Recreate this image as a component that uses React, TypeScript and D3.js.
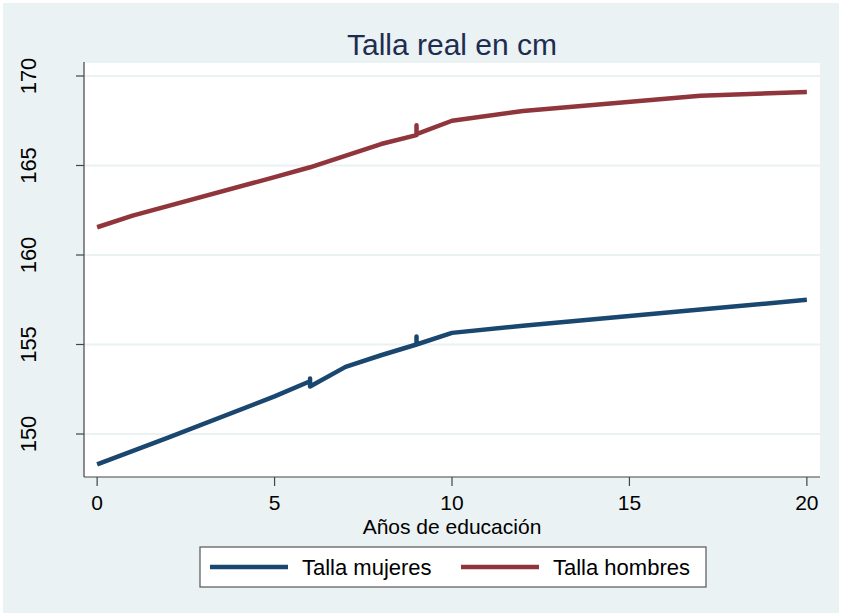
import React from 'react';
import * as d3 from 'd3';

const W = 842;
const H = 616;
const PLOT = { left: 84, right: 820, top: 63, bottom: 477 };

const xTicks = [0, 5, 10, 15, 20];
const yTicks = [150, 155, 160, 165, 170];

// Mujeres
const womenX = [0, 2, 5, 6, 6, 6, 7, 8, 9, 9, 9, 10, 12, 17, 20];
const womenY = [148.3, 149.8, 152.1, 152.95, 153.1, 152.65, 153.75, 154.4, 155.0, 155.45, 155.0, 155.65, 156.05, 156.95, 157.5];

// Hombres
const menX = [0, 1, 5, 6, 8, 9, 9, 9, 10, 12, 17, 20];
const menY = [161.55, 162.2, 164.35, 164.9, 166.2, 166.7, 167.25, 166.75, 167.5, 168.05, 168.9, 169.1];

const series = [
  { name: 'Talla mujeres', xs: womenX, ys: womenY, color: '#1a476f' },
  { name: 'Talla hombres', xs: menX, ys: menY, color: '#90353b' },
];

const FONT = 'Liberation Sans, Arial, sans-serif';

export default function App() {
  const x = d3.scaleLinear().domain([-0.37, 20.37]).range([PLOT.left, PLOT.right]);
  const y = d3.scaleLinear().domain([150, 170]).range([434, 76]);

  const line = d3.line<[number, number]>()
    .x(d => x(d[0]))
    .y(d => y(d[1]));

  const legendX = 200;
  const legendY = 547;

  return (
    <svg width={W} height={H} style={{ position: 'absolute', left: 0, top: 0 }} fontFamily={FONT}>
      <rect x={0} y={0} width={W} height={H} fill="#ffffff" />
      <rect x={3} y={3} width={W - 6} height={H - 6} fill="#eaf2f3" />

      {/* plot region */}
      <rect x={PLOT.left} y={PLOT.top} width={PLOT.right - PLOT.left} height={PLOT.bottom - PLOT.top} fill="#ffffff" />

      {/* grid */}
      {yTicks.map(t => (
        <line key={'g' + t} x1={PLOT.left} x2={PLOT.right} y1={y(t)} y2={y(t)} stroke="#eaf2f3" strokeWidth={2} />
      ))}

      {/* series */}
      {series.map(s => (
        <path
          key={s.name}
          d={line(s.xs.map((v, i) => [v, s.ys[i]] as [number, number])) || ''}
          fill="none"
          stroke={s.color}
          strokeWidth={4.5}
          strokeLinejoin="round"
        />
      ))}

      {/* axes */}
      <line x1={PLOT.left} x2={PLOT.left} y1={PLOT.top - 1} y2={PLOT.bottom} stroke="#444" strokeWidth={1.2} />
      <line x1={PLOT.left} x2={PLOT.right} y1={PLOT.bottom} y2={PLOT.bottom} stroke="#444" strokeWidth={1.2} />

      {yTicks.map(t => (
        <g key={'y' + t}>
          <line x1={PLOT.left - 8} x2={PLOT.left} y1={y(t)} y2={y(t)} stroke="#444" strokeWidth={1.2} />
          <text
            transform={`translate(36,${y(t)}) rotate(-90)`}
            textAnchor="middle"
            fontSize={22}
            fill="#000"
          >
            {t}
          </text>
        </g>
      ))}

      {xTicks.map(t => (
        <g key={'x' + t}>
          <line x1={x(t)} x2={x(t)} y1={PLOT.bottom} y2={PLOT.bottom + 9} stroke="#444" strokeWidth={1.2} />
          <text x={x(t)} y={510} textAnchor="middle" fontSize={21} fill="#000">
            {t}
          </text>
        </g>
      ))}

      <text x={(PLOT.left + PLOT.right) / 2} y={534} textAnchor="middle" fontSize={21} fill="#000">
        Años de educación
      </text>

      <text x={(PLOT.left + PLOT.right) / 2} y={55} textAnchor="middle" fontSize={30} fill="#1e2d4f">
        Talla real en cm
      </text>

      {/* legend */}
      <rect x={legendX} y={legendY} width={506} height={40} fill="#ffffff" stroke="#555" strokeWidth={1.2} />
      {series.map((s, i) => {
        const ox = legendX + 10 + i * 251;
        return (
          <g key={'l' + s.name}>
            <line x1={ox} x2={ox + 78} y1={legendY + 20} y2={legendY + 20} stroke={s.color} strokeWidth={4.5} />
            <text x={ox + 92} y={legendY + 28} fontSize={22} fill="#000">
              {s.name}
            </text>
          </g>
        );
      })}
    </svg>
  );
}
